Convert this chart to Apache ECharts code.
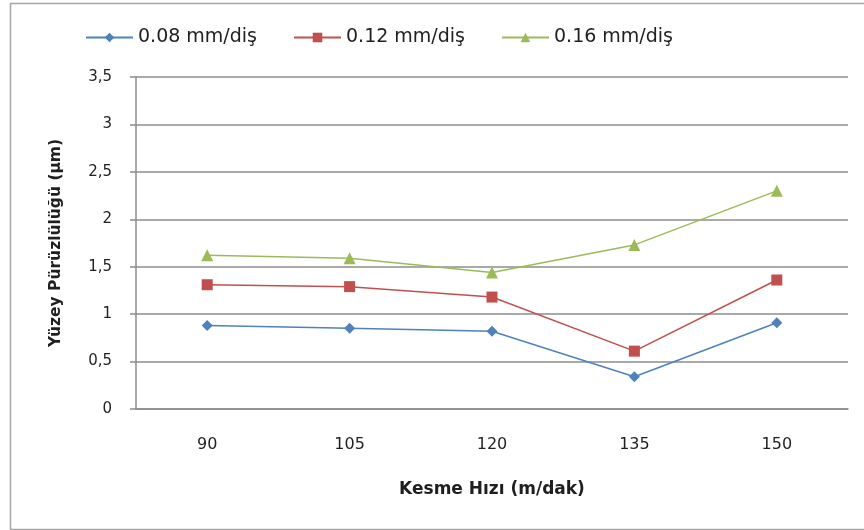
<!DOCTYPE html>
<html>
<head>
<meta charset="utf-8">
<script src="https://cdn.jsdelivr.net/npm/echarts@6/dist/echarts.min.js"></script>
<style>html,body{margin:0;padding:0;background:#fff}#c{width:864px;height:530px}</style>
</head>
<body>
<div id="c"></div>
<script>
const categories = ['90', '105', '120', '135', '150'];
const s008 = [0.88, 0.85, 0.82, 0.34, 0.91];
const s012 = [1.31, 1.29, 1.18, 0.61, 1.36];
const s016 = [1.62, 1.59, 1.44, 1.73, 2.30];
const seriesNames = ['0.08 mm/diş', '0.12 mm/diş', '0.16 mm/diş'];

const chart = echarts.init(document.getElementById('c'), null, {renderer: 'canvas'});
const txt = '#1f1f1f';
chart.setOption({
  animation: false,
  backgroundColor: '#fff',
  graphic: [{
    type: 'rect', left: 8, top: 1, shape: {x: 0, y: 0, width: 900, height: 526},
    style: {fill: 'none', stroke: '#a6a6a6', lineWidth: 1.5}, silent: true, z: -1
  }],
  legend: {
    left: 80, top: 23, itemWidth: 47, itemHeight: 12, itemGap: 36,
    textStyle: {fontFamily: 'DejaVu Sans', fontSize: 19, color: txt},
    data: seriesNames
  },
  grid: {left: 136, right: 16, top: 77, bottom: 121, containLabel: false},
  xAxis: {
    type: 'category', data: categories, boundaryGap: true,
    name: 'Kesme Hızı (m/dak)', nameLocation: 'middle', nameGap: 72,
    nameTextStyle: {fontFamily: 'DejaVu Sans', fontWeight: 'bold', fontSize: 17, color: txt},
    axisLine: {lineStyle: {color: '#8c8c8c', width: 1.5}},
    axisTick: {show: false},
    axisLabel: {margin: 28, fontFamily: 'DejaVu Sans', fontSize: 16, color: txt},
    splitLine: {show: false}
  },
  yAxis: {
    type: 'value', min: 0, max: 3.5, interval: 0.5,
    name: 'Yüzey Pürüzlülüğü (µm)', nameLocation: 'middle', nameGap: 72,
    nameTextStyle: {fontFamily: 'DejaVu Sans', fontWeight: 'bold', fontSize: 15.5, color: txt},
    axisLine: {show: true, lineStyle: {color: '#8c8c8c', width: 1.5}},
    axisTick: {show: true, length: 6, lineStyle: {color: '#8c8c8c', width: 1.5}},
    axisLabel: {margin: 24, fontFamily: 'DejaVu Sans', fontSize: 15, color: txt,
      formatter: v => String(v).replace('.', ',')},
    splitLine: {lineStyle: {color: '#8c8c8c', width: 1.5}}
  },
  series: [
    {name: seriesNames[0], type: 'line', data: s008, symbol: 'diamond', symbolSize: 11,
     itemStyle: {color: '#4F81BD'}, lineStyle: {width: 1.5, color: '#4F81BD'}},
    {name: seriesNames[1], type: 'line', data: s012, symbol: 'rect', symbolSize: 11,
     itemStyle: {color: '#C0504D'}, lineStyle: {width: 1.5, color: '#C0504D'}},
    {name: seriesNames[2], type: 'line', data: s016, symbol: 'triangle', symbolSize: 12,
     itemStyle: {color: '#9BBB59'}, lineStyle: {width: 1.5, color: '#9BBB59'}}
  ]
});
</script>
</body>
</html>
